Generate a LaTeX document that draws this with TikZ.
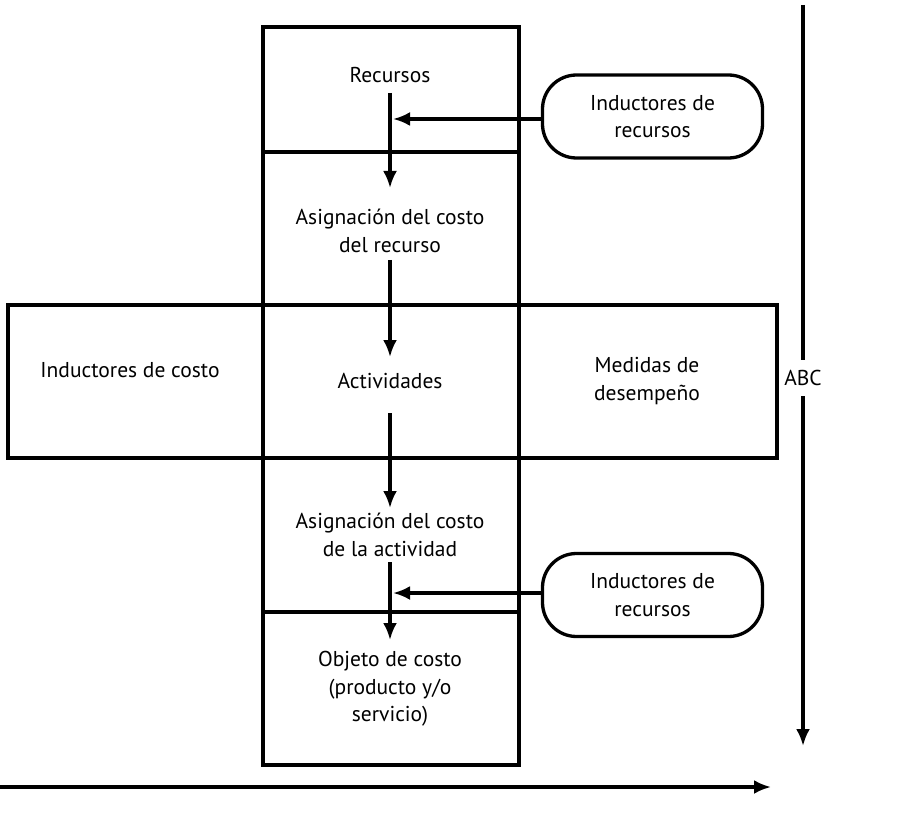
\documentclass[tikz,border=0pt]{standalone}
\usepackage{fontspec}
\setmainfont{PT Sans}
\usetikzlibrary{arrows.meta,calc}
\begin{document}
\begin{tikzpicture}[x=1pt,y=-1pt,
  cell/.style={draw,line width=3.3pt,minimum width=#1,inner sep=0pt},
  lbl/.style={align=center,font=\fontsize{21.5}{27.5}\selectfont,inner sep=0pt},
  pill/.style={draw,line width=3.3pt,rounded corners=34pt,minimum width=220pt,minimum height=83pt,
               align=center,font=\fontsize{21.5}{27.5}\selectfont,inner sep=0pt},
  arr/.style={line width=3.3pt,-{Latex[length=17pt,width=14pt]}}]
\useasboundingbox (0,0) rectangle (911,821);

% central column of cells
\node[cell=256pt,minimum height=125pt] (c1) at (391,89.5) {};
\node[cell=256pt,minimum height=153pt] (c2) at (391,228.5) {};
\node[cell=256pt,minimum height=154pt] (c4) at (391,535) {};
\node[cell=256pt,minimum height=153pt] (c5) at (391,688.5) {};
% wide activity row
\node[cell=255pt,minimum height=153pt] (cl) at (135.5,381.5) {};
\node[cell=256pt,minimum height=153pt] (c3) at (391,381.5) {};
\node[cell=258pt,minimum height=153pt] (cr) at (648,381.5) {};

% cell texts
\node[lbl] (t1) at (390,75) {Recursos};
\node[lbl] (t2) at (390,231) {Asignación del costo\\del recurso};
\node[lbl] (t3) at (390,381) {Actividades};
\node[lbl] (t4) at (390,535) {Asignación del costo\\de la actividad};
\node[lbl] (t5) at (390,689) {Objeto de costo\\(producto y/o\\servicio)};
\node[lbl] (tl) at (130,370) {Inductores de costo};
\node[lbl] (tr) at (647,381) {Medidas de\\desempeño};

% driver pills
\node[pill] (p1) at (652.5,116.5) {Inductores de\\recursos};
\node[pill] (p2) at (652.5,595) {Inductores de\\recursos};

% flow down the column
\coordinate (a1s) at (390,93);   \coordinate (a1e) at (390,188);
\coordinate (a2s) at (390,260);  \coordinate (a2e) at (390,357);
\coordinate (a3s) at (390,413);  \coordinate (a3e) at (390,508);
\coordinate (a4s) at (390,562);  \coordinate (a4e) at (390,640);
\draw[arr] (a1s) -- (a1e);
\draw[arr] (a2s) -- (a2e);
\draw[arr] (a3s) -- (a3e);
\draw[arr] (a4s) -- (a4e);

% driver arrows
\coordinate (h1) at (393,119);
\coordinate (h2) at (393,593);
\draw[arr] (p1.west |- h1) -- (h1);
\draw[arr] (p2.west |- h2) -- (h2);

% ABC axis
\node[lbl,minimum height=36pt] (abc) at (803,378) {ABC};
\coordinate (abctop) at (803,5);
\coordinate (abcend) at (803,746);
\draw[line width=3.3pt] (abctop) -- (abc.north);
\draw[arr] (abc.south) -- (abcend);

% horizontal axis
\coordinate (hx0) at (0,787);
\coordinate (hx1) at (771,787);
\draw[arr] (hx0) -- (hx1);
\end{tikzpicture}
\end{document}
